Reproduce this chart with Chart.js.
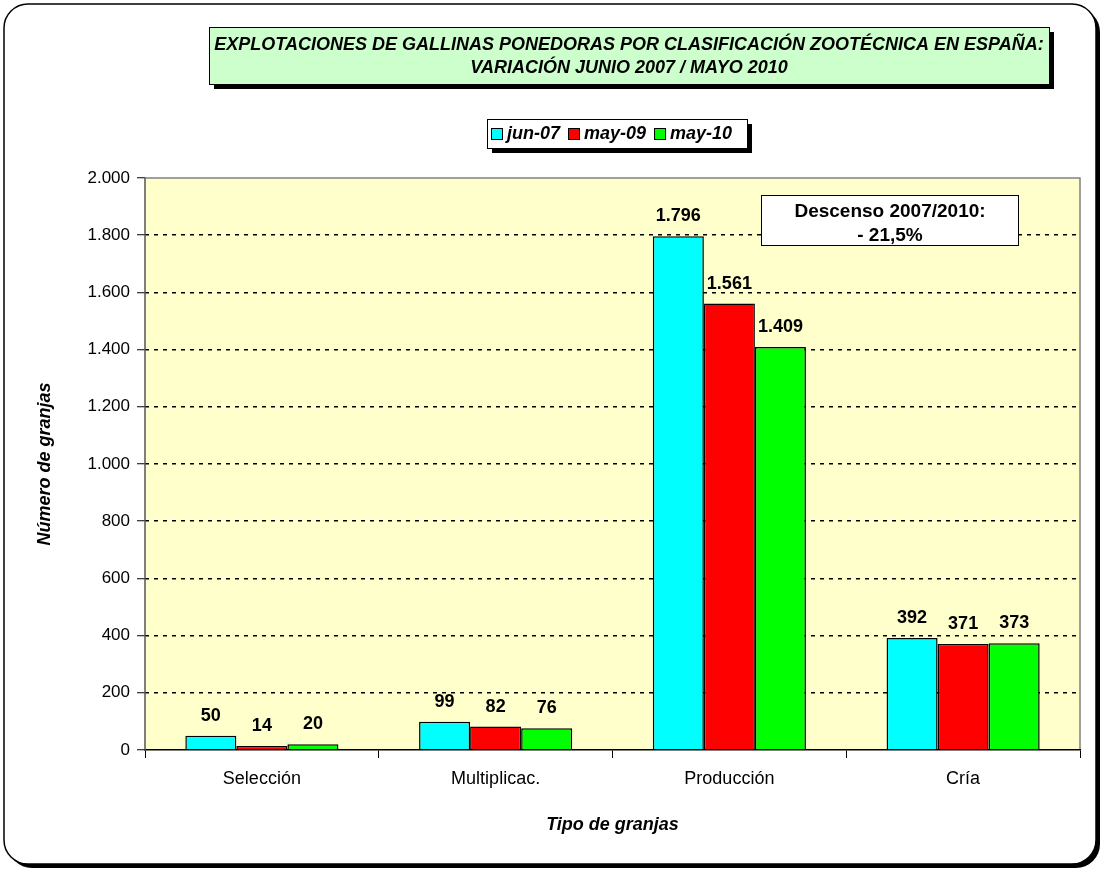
<!DOCTYPE html>
<html>
<head>
<meta charset="utf-8">
<script src="https://cdn.jsdelivr.net/npm/chart.js@4/dist/chart.umd.min.js"></script>
<style>
  body { margin: 0; background: #fff; }
  #wrap { width: 1104px; height: 871px; }
</style>
</head>
<body>
<div id="wrap"><canvas id="chart" width="1104" height="871"></canvas></div>
<script>
'use strict'

// data
var categories = ['Selección', 'Multiplicac.', 'Producción', 'Cría']
var seriesNames = ['jun-07', 'may-09', 'may-10']
var jun07 = [50, 99, 1796, 392]
var may09 = [14, 82, 1561, 371]
var may10 = [20, 76, 1409, 373]
var seriesColors = ['#00FFFF', '#FF0000', '#00FF00']
var yTicks = [0, 200, 400, 600, 800, 1000, 1200, 1400, 1600, 1800, 2000]
var titleLines = ['EXPLOTACIONES DE GALLINAS PONEDORAS POR CLASIFICACIÓN ZOOTÉCNICA EN ESPAÑA:', 'VARIACIÓN JUNIO 2007 / MAYO 2010']
var noteLines = ['Descenso 2007/2010:', '- 21,5%']

var FONT = '"Liberation Sans", Arial, sans-serif'

function miles(v) {
    return String(v).replace(/\B(?=(\d{3})+(?!\d))/g, '.')
}

function boxWithShadow(ctx, x, y, w, h, fill, sh) {
    ctx.save()
    if (sh) {
        ctx.fillStyle = '#000'
        ctx.fillRect(x + sh, y + sh, w, h)
    }
    ctx.fillStyle = fill
    ctx.fillRect(x, y, w, h)
    ctx.strokeStyle = '#000'
    ctx.lineWidth = 1
    ctx.strokeRect(x + 0.5, y + 0.5, w, h)
    ctx.restore()
}

function roundRect(ctx, x, y, w, h, r) {
    ctx.beginPath()
    ctx.moveTo(x + r, y)
    ctx.lineTo(x + w - r, y)
    ctx.arcTo(x + w, y, x + w, y + r, r)
    ctx.lineTo(x + w, y + h - r)
    ctx.arcTo(x + w, y + h, x + w - r, y + h, r)
    ctx.lineTo(x + r, y + h)
    ctx.arcTo(x, y + h, x, y + h - r, r)
    ctx.lineTo(x, y + r)
    ctx.arcTo(x, y, x + r, y, r)
    ctx.closePath()
}

var decor = {
    id: 'decor',
    beforeDraw: function (chart) {
        var ctx = chart.ctx
        var a = chart.chartArea
        ctx.save()
        // outer frame with shadow
        roundRect(ctx, 8, 8, 1092, 860, 24)
        ctx.fillStyle = '#000'
        ctx.fill()
        roundRect(ctx, 4, 4, 1092, 860, 24)
        ctx.fillStyle = '#fff'
        ctx.fill()
        ctx.lineWidth = 1.5
        ctx.strokeStyle = '#000'
        ctx.stroke()
        // plot background
        ctx.fillStyle = '#FFFFCC'
        ctx.fillRect(a.left, a.top, a.right - a.left, a.bottom - a.top)
        ctx.strokeStyle = '#808080'
        ctx.lineWidth = 1.5
        ctx.beginPath()
        ctx.moveTo(a.left, a.top)
        ctx.lineTo(a.right, a.top)
        ctx.lineTo(a.right, a.bottom)
        ctx.stroke()
        ctx.restore()
    },
    afterDatasetsDraw: function (chart) {
        var ctx = chart.ctx
        var a = chart.chartArea
        ctx.save()
        ctx.strokeStyle = '#555'
        ctx.lineWidth = 1.5
        ctx.setLineDash([])
        ctx.beginPath()
        ctx.moveTo(a.left, a.top)
        ctx.lineTo(a.left, a.bottom)
        ctx.stroke()
        ctx.restore()
    },
    afterDraw: function (chart) {
        var ctx = chart.ctx
        ctx.save()
        // title box
        boxWithShadow(ctx, 209, 27, 840, 57, '#CCFFCC', 5)
        ctx.fillStyle = '#000'
        ctx.font = 'italic bold 18px ' + FONT
        ctx.textAlign = 'center'
        ctx.textBaseline = 'middle'
        ctx.fillText(titleLines[0], 629, 45)
        ctx.fillText(titleLines[1], 629, 68)

        // legend
        boxWithShadow(ctx, 487, 119, 260, 29, '#fff', 5)
        ctx.font = 'italic bold 18px ' + FONT
        ctx.textAlign = 'left'
        var x = 491
        for (var i = 0; i < seriesNames.length; i++) {
            ctx.fillStyle = seriesColors[i]
            ctx.fillRect(x, 128, 11, 11)
            ctx.strokeStyle = '#000'
            ctx.lineWidth = 1
            ctx.strokeRect(x + 0.5, 128.5, 11, 11)
            ctx.fillStyle = '#000'
            ctx.fillText(seriesNames[i], x + 16, 134)
            x += 16 + ctx.measureText(seriesNames[i]).width + 8
        }

        // note box
        boxWithShadow(ctx, 761, 195, 257, 50, '#fff', 0)
        ctx.font = 'bold 19px ' + FONT
        ctx.textAlign = 'center'
        ctx.fillStyle = '#000'
        ctx.fillText(noteLines[0], 890, 212)
        ctx.fillText(noteLines[1], 890, 236)

        // value labels
        ctx.font = 'bold 18px ' + FONT
        chart.data.datasets.forEach(function (ds, di) {
            var meta = chart.getDatasetMeta(di)
            meta.data.forEach(function (bar, j) {
                ctx.fillText(miles(ds.data[j]), bar.x, bar.y - 20)
            })
        })
        ctx.restore()
    }
}

var datasets = [jun07, may09, may10].map(function (d, i) {
    return {
        label: seriesNames[i],
        data: d,
        backgroundColor: seriesColors[i],
        borderColor: '#000',
        borderWidth: 1.5,
        categoryPercentage: 0.655,
        barPercentage: 1
    }
})

new Chart(document.getElementById('chart'), {
    type: 'bar',
    data: { labels: categories, datasets: datasets },
    options: {
        responsive: false,
        animation: false,
        layout: { padding: { left: 20, right: 24, top: 178, bottom: 20 } },
        plugins: {
            legend: { display: false },
            title: { display: false },
            tooltip: { enabled: false }
        },
        scales: {
            x: {
                offset: true,
                grid: {
                    offset: true,
                    drawOnChartArea: false,
                    drawTicks: true,
                    tickLength: 8,
                    tickColor: '#000'
                },
                border: { color: '#000', width: 1.5 },
                ticks: { color: '#000', padding: 10, font: { family: FONT, size: 18 } },
                title: {
                    display: true,
                    text: 'Tipo de granjas',
                    color: '#000',
                    font: { family: FONT, size: 18, style: 'italic', weight: 'bold' },
                    padding: { top: 20, bottom: 15 }
                },
                afterFit: function (s) { s.height = 871 - 750 - 20 }
            },
            y: {
                min: 0,
                max: 2000,
                afterBuildTicks: function (s) {
                    s.ticks = yTicks.map(function (v) { return { value: v } })
                },
                grid: {
                    color: function (c) {
                        var v = c.tick ? c.tick.value : 0
                        return (v === 0 || v === 2000) ? 'rgba(0,0,0,0)' : '#000'
                    },
                    lineWidth: 1.5,
                    borderDash: [4, 5],
                    tickLength: 8,
                    tickColor: '#000',
                    tickBorderDash: [],
                    tickWidth: 1
                },
                border: { display: false, dash: [4, 5] },
                ticks: {
                    color: '#000',
                    padding: 7,
                    font: { family: FONT, size: 17 },
                    callback: function (v) { return miles(v) }
                },
                title: {
                    display: true,
                    text: 'Número de granjas',
                    color: '#000',
                    font: { family: FONT, size: 18, style: 'italic', weight: 'bold' },
                    padding: { top: 14, bottom: 0 }
                },
                afterFit: function (s) { s.width = 145 - 20 }
            }
        }
    },
    plugins: [decor]
})
</script>
</body>
</html>
